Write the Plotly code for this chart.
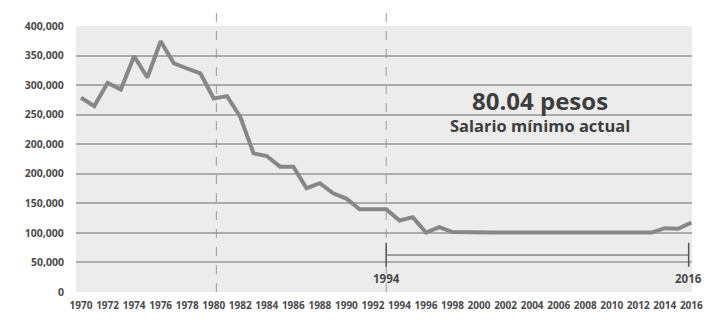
import plotly.graph_objects as go

# ---- data (values in axis units; gridlines every 50,000) ----
years = list(range(1970, 2017))
salario = [
    328500, 314500, 353800, 342700, 398900, 362900, 424200, 386600, 378100, 369700,  # 1970-1979
    327500, 331400, 296400, 234600, 230100, 212000, 212000, 175600, 184000, 167100,  # 1980-1989
    158000, 140100, 140100, 140100, 120900, 126600, 100600, 109700, 101300, 100600,  # 1990-1999
    100600, 100600, 100600, 100600, 100600, 100600, 100600, 100600, 100600, 100600,  # 2000-2009
    100600, 100600, 100600, 100600, 108000, 106900, 117500,                          # 2010-2016
]
x_tick_years = list(range(1970, 2017, 2))
y_tick_vals = [0, 50000, 100000, 150000, 200000, 250000, 300000, 350000, 400000, 450000]
y_tick_text = ["0", "50,000", "100,000", "150,000", "200,000", "200,000",
               "250,000", "300,000", "350,000", "400,000"]

headline = "80.04 pesos"
subtitle = "Salario mínimo actual"
bracket_labels = ["1994", "2016"]

# annotation placement (in axis units, as seen in the reference)
VLINE_A = 1980.2
VLINE_B = 1993.0
BRACKET_END = 2015.8
BRACKET_Y = 62500
BRACKET_TICK = (42700, 83200)
BRACKET_LABEL_Y = 23600

FONT = "Open Sans"
TXT = "#4a4a4a"

fig = go.Figure()
fig.add_trace(go.Scatter(
    x=years, y=salario, mode="lines",
    line=dict(color="#878787", width=4),
    hoverinfo="skip", showlegend=False,
))

shapes = []
for xv in (VLINE_A, VLINE_B):
    shapes.append(dict(type="line", xref="x", yref="paper", x0=xv, x1=xv, y0=0, y1=1.05,
                       line=dict(color="#9a9a9a", width=1, dash="dash"), layer="above"))
# bracket 1994-2016
shapes.append(dict(type="line", xref="x", yref="y", x0=VLINE_B, x1=BRACKET_END,
                   y0=BRACKET_Y, y1=BRACKET_Y, line=dict(color="#555555", width=1)))
for xv in (VLINE_B, BRACKET_END):
    shapes.append(dict(type="line", xref="x", yref="y", x0=xv, x1=xv,
                       y0=BRACKET_TICK[0], y1=BRACKET_TICK[1],
                       line=dict(color="#555555", width=1.5)))

annotations = [
    dict(text=headline, xref="paper", yref="paper", x=0.753, y=0.721, showarrow=False,
         xanchor="center", yanchor="middle",
         font=dict(family=FONT, size=24, color="#3d3d3d", weight=700)),
    dict(text=subtitle, xref="paper", yref="paper", x=0.753, y=0.625, showarrow=False,
         xanchor="center", yanchor="middle",
         font=dict(family=FONT, size=16.5, color="#3d3d3d", weight=700)),
    dict(text=bracket_labels[0], xref="x", yref="y", x=VLINE_B, y=BRACKET_LABEL_Y,
         showarrow=False, xanchor="center", yanchor="middle",
         font=dict(family=FONT, size=11.5, color=TXT, weight=700)),
    dict(text=bracket_labels[1], xref="x", yref="y", x=BRACKET_END, y=BRACKET_LABEL_Y,
         showarrow=False, xanchor="center", yanchor="middle",
         font=dict(family=FONT, size=11.5, color=TXT, weight=700)),
]

# the page body adds an 8px margin at top/left, so the figure is 8px smaller
fig.update_layout(
    width=704, height=312,
    margin=dict(l=68, r=20, t=18, b=28, autoexpand=False),
    paper_bgcolor="white", plot_bgcolor="#ececec",
    shapes=shapes, annotations=annotations,
    font=dict(family=FONT, color=TXT),
    xaxis=dict(
        range=[1969.62, 2016.05], tickvals=x_tick_years,
        ticktext=[str(y) for y in x_tick_years],
        showgrid=False, zeroline=False, showline=False, automargin=False,
        ticks="outside", ticklen=4, tickcolor="rgba(0,0,0,0)",
        tickfont=dict(family=FONT, size=10, color=TXT, weight=700),
        tickangle=0,
    ),
    yaxis=dict(
        range=[0, 450000], tickvals=y_tick_vals, ticktext=y_tick_text,
        showgrid=True, gridcolor="#ababab", gridwidth=1.5,
        zeroline=False, showline=False, automargin=False,
        ticks="outside", ticklen=9, tickcolor="rgba(0,0,0,0)",
        tickfont=dict(family=FONT, size=10.5, color=TXT, weight=700),
    ),
)

fig.write_html("out.html")
